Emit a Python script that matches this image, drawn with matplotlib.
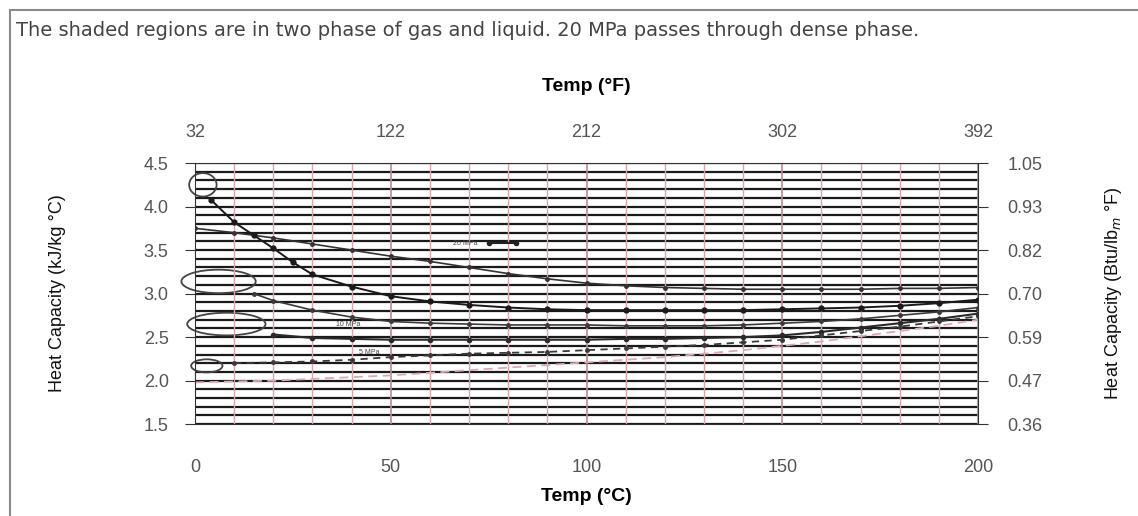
import matplotlib
matplotlib.use("Agg")
import matplotlib.pyplot as plt
from matplotlib.patches import Ellipse, Rectangle

plt.rcParams['font.family'] = ['Liberation Sans', 'DejaVu Sans']

# temperatures in degC
temp_a = [0, 10, 20, 30, 40, 50, 60, 70, 80, 90, 100, 110, 120, 130, 140, 150, 160, 170, 180, 190, 200]
cp_a = [3.75, 3.70, 3.64, 3.57, 3.50, 3.43, 3.37, 3.30, 3.23, 3.17, 3.12, 3.09, 3.07, 3.06, 3.05, 3.05, 3.05, 3.05, 3.06, 3.06, 3.07]

temp_b = [4, 10, 15, 20, 25, 30, 40, 50, 60, 70, 80, 90, 100, 110, 120, 130, 140, 150, 160, 170, 180, 190, 200]
cp_b = [4.08, 3.82, 3.67, 3.52, 3.36, 3.22, 3.08, 2.97, 2.91, 2.87, 2.84, 2.82, 2.81, 2.81, 2.81, 2.81, 2.81, 2.82, 2.83, 2.84, 2.86, 2.89, 2.93]

temp_c = [15, 20, 30, 40, 50, 60, 70, 80, 90, 100, 110, 120, 130, 140, 150, 160, 170, 180, 190, 200]
cp_c = [3.00, 2.92, 2.81, 2.73, 2.68, 2.66, 2.65, 2.64, 2.64, 2.64, 2.63, 2.63, 2.63, 2.64, 2.66, 2.68, 2.71, 2.75, 2.79, 2.84]

temp_d = [20, 30, 40, 50, 60, 70, 80, 90, 100, 110, 120, 130, 140, 150, 160, 170, 180, 190, 200]
cp_d = [2.53, 2.49, 2.48, 2.47, 2.47, 2.47, 2.47, 2.47, 2.47, 2.48, 2.48, 2.49, 2.50, 2.52, 2.56, 2.61, 2.66, 2.71, 2.77]

temp_e = [10, 20, 30, 40, 50, 60, 70, 80, 90, 100, 110, 120, 130, 140, 150, 160, 170, 180, 190, 200]
cp_e = [2.20, 2.21, 2.22, 2.24, 2.27, 2.29, 2.31, 2.32, 2.33, 2.35, 2.37, 2.39, 2.41, 2.44, 2.47, 2.52, 2.57, 2.62, 2.68, 2.74]

temp_f = [0, 10, 20, 30, 40, 50, 60, 70, 80, 90, 100, 110, 120, 130, 140, 150, 160, 170, 180, 190, 200]
cp_f = [1.98, 1.99, 2.00, 2.02, 2.04, 2.06, 2.09, 2.12, 2.15, 2.18, 2.21, 2.24, 2.27, 2.31, 2.35, 2.40, 2.45, 2.51, 2.57, 2.63, 2.70]

# two-phase regions: centre temp, centre cp, width, height
phase_t = [2, 6, 8, 3]
phase_cp = [4.25, 3.14, 2.65, 2.17]
phase_w = [7, 19, 20, 8]
phase_h = [0.27, 0.27, 0.26, 0.15]

series_labels = ['20 MPa', '10 MPa', '5 MPa']
label_t = [66, 36, 42]
label_cp = [3.58, 2.64, 2.32]

c_ticks = [0, 50, 100, 150, 200]
f_labels = ['32', '122', '212', '302', '392']
si_ticks = [1.5, 2.0, 2.5, 3.0, 3.5, 4.0, 4.5]
btu_labels = ['0.36', '0.47', '0.59', '0.70', '0.82', '0.93', '1.05']

fig = plt.figure(figsize=(11.38, 5.16), dpi=100)
fig.patches.append(Rectangle((10 / 1138, -0.1), 1.2, 1.1 - 10 / 516, transform=fig.transFigure,
                             fill=False, edgecolor='#8a8a8a', linewidth=1.5))

ax = fig.add_axes([0.1714, 0.178, 0.688, 0.506])
ax.set_xlim(0, 200)
ax.set_ylim(1.5, 4.5)

# grid: every 0.1 kJ/kg C and every 10 C
for i in range(31):
    ax.axhline(1.5 + 0.1 * i, color='#1a1a1a', linewidth=1.6, zorder=0.5)
ax.set_xticks(list(range(0, 201, 10)), minor=True)
ax.grid(axis='x', which='minor', color='#d7a7ad', linewidth=1.0)
ax.grid(axis='x', which='major', color='#b98c92', linewidth=1.2)
ax.tick_params(which='minor', length=0)

ax.plot(temp_a, cp_a, color='#333333', lw=1.2, marker='o', ms=2.5)
ax.plot(temp_b, cp_b, color='#1a1a1a', lw=1.4, marker='o', ms=3.5)
ax.plot(temp_c, cp_c, color='#3a3a3a', lw=1.2, marker='o', ms=2.5)
ax.plot(temp_d, cp_d, color='#2a2a2a', lw=1.5, marker='o', ms=3)
ax.plot(temp_e, cp_e, color='#3a3a3a', lw=1.3, ls=(0, (4, 3)), marker='o', ms=2.5)
ax.plot(temp_f, cp_f, color='#d9aab4', lw=1.3, ls=(0, (5, 3)))

for t, c, w, h in zip(phase_t, phase_cp, phase_w, phase_h):
    ax.add_patch(Ellipse((t, c), w, h, fill=False, edgecolor='#444444', linewidth=1.3, clip_on=False))

for s, t, c in zip(series_labels, label_t, label_cp):
    ax.text(t, c, s, fontsize=5, color='#444444', va='center')
ax.plot([label_t[0] + 9, label_t[0] + 16], [label_cp[0], label_cp[0]], color='#222222', lw=1.5, marker='o', ms=3)

for sp in ['top', 'right']:
    ax.spines[sp].set_visible(False)
ax.spines['left'].set_color('#333333')
ax.spines['bottom'].set_color('#333333')

ax.set_xticks(c_ticks)
ax.set_yticks(si_ticks)
ax.set_yticklabels([f'{v:.1f}' for v in si_ticks])
ax.tick_params(axis='both', which='major', labelsize=13, labelcolor='#555555', length=7, color='#333333')
ax.tick_params(axis='x', pad=25, length=0)
ax.tick_params(axis='y', pad=12)
ax.set_xlabel('Temp (°C)', fontsize=14, fontweight='bold', labelpad=9)
ax.set_ylabel('Heat Capacity (kJ/kg °C)', fontsize=13, color='#111111', labelpad=56)

ax2 = ax.twinx()
ax2.set_ylim(1.5, 4.5)
ax2.set_yticks(si_ticks)
ax2.set_yticklabels(btu_labels)
ax2.tick_params(axis='y', labelsize=13, labelcolor='#555555', length=7, pad=14, color='#333333')
ax2.spines['right'].set_color('#333333')
for sp in ['top', 'left', 'bottom']:
    ax2.spines[sp].set_visible(False)
ax2.set_ylabel('Heat Capacity (Btu/lb$_m$ °F)', fontsize=13, color='#111111', labelpad=44)

ax3 = ax.twiny()
ax3.set_xlim(0, 200)
ax3.set_xticks(c_ticks)
ax3.set_xticklabels(f_labels)
ax3.tick_params(axis='x', labelsize=13, labelcolor='#555555', length=0, pad=16)
for sp in ['right', 'left', 'bottom']:
    ax3.spines[sp].set_visible(False)
ax3.spines['top'].set_color('#333333')
ax3.set_xlabel('Temp (°F)', fontsize=14, fontweight='bold', labelpad=24)

fig.text(16 / 1138, 1 - 31 / 516,
         'The shaded regions are in two phase of gas and liquid. 20 MPa passes through dense phase.',
         fontsize=14, color='#444444', va='center', family=['DejaVu Sans'])

fig.savefig('out.png', dpi=100)
